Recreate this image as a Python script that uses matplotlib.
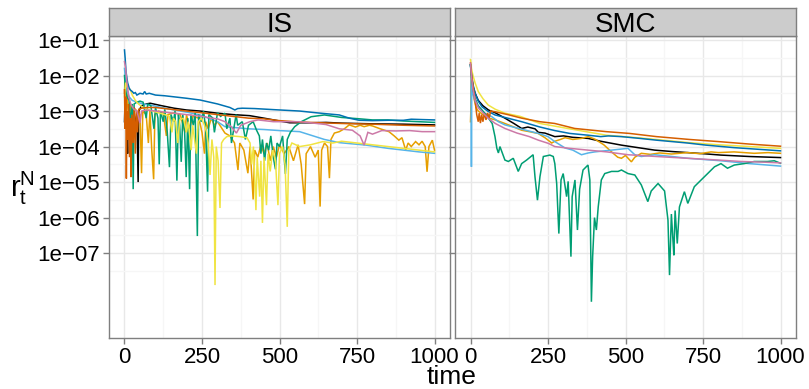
import matplotlib
matplotlib.use('Agg')
import matplotlib.pyplot as plt
from matplotlib.ticker import FixedLocator, NullFormatter

plt.rcParams['font.family'] = ['Liberation Sans', 'DejaVu Sans']
plt.rcParams['mathtext.fontset'] = 'custom'
plt.rcParams['mathtext.rm'] = 'Liberation Sans'
plt.rcParams['mathtext.it'] = 'Liberation Sans'

# series: (time, log10 r_t^N)
is_black = [(0, -3.3), (2, -2.6), (5, -2.9), (8, -3.6), (10, -4.2), (12, -3.3), (16, -3.8), (20, -3.0),
            (25, -3.5), (30, -2.9), (35, -3.4), (40, -3.1), (44, -5.0), (46, -3.0), (55, -2.85), (70, -2.8),
            (83, -2.78), (120, -2.85), (160, -2.92), (200, -2.97), (244, -3.0), (300, -3.06), (350, -3.1),
            (404, -3.13), (450, -3.2), (500, -3.28), (533, -3.33), (600, -3.33), (650, -3.32), (700, -3.34),
            (800, -3.36), (900, -3.37), (1000, -3.39)]
is_orange = [(0, -2.5), (2, -2.0), (4, -2.4), (6, -3.2), (8, -2.5), (12, -2.9), (16, -3.4), (20, -2.8),
             (25, -3.1), (30, -2.9), (40, -3.0), (50, -3.1), (55, -4.75), (59, -3.0), (70, -3.1), (77, -3.9),
             (82, -3.0), (88, -4.1), (94, -4.92), (98, -3.1), (110, -3.0), (125, -3.05), (135, -3.7),
             (140, -3.1), (160, -3.05), (180, -3.1), (195, -3.6), (200, -3.1), (210, -3.5), (220, -3.15),
             (240, -3.2), (250, -3.6), (258, -4.2), (262, -3.3), (270, -3.5), (280, -3.2), (290, -3.4),
             (300, -3.3), (315, -3.5), (324, -3.62), (340, -3.7), (355, -3.9), (366, -4.66), (372, -3.9),
             (385, -4.1), (398, -4.75), (405, -4.0), (415, -5.49), (420, -4.1), (430, -4.3), (440, -3.95),
             (450, -4.2), (460, -3.9), (470, -4.4), (480, -4.0), (490, -4.3), (500, -3.95), (515, -4.2),
             (530, -4.0), (545, -4.4), (560, -3.95), (570, -4.5), (581, -5.62), (586, -4.2), (600, -4.0),
             (615, -4.3), (625, -4.1), (631, -5.69), (636, -4.1), (645, -3.9), (655, -4.0), (661, -4.89),
             (666, -3.8), (677, -3.62), (693, -3.58), (709, -3.5), (725, -3.39), (745, -3.45), (760, -3.4),
             (773, -3.44), (790, -3.4), (800, -3.42), (825, -3.5), (853, -3.58), (870, -3.7), (885, -3.82),
             (895, -3.75), (907, -4.1), (915, -3.9), (925, -4.0), (939, -3.86), (950, -3.95), (960, -3.85),
             (970, -4.0), (976, -4.71), (982, -4.0), (993, -3.82), (1000, -4.1)]
is_skyblue = [(0, -1.8), (3, -2.1), (8, -2.4), (15, -2.6), (25, -2.7), (40, -2.75), (60, -2.8), (83, -2.83),
              (120, -2.9), (160, -2.97), (200, -3.03), (244, -3.11), (300, -3.3), (324, -3.44), (400, -3.5),
              (450, -3.52), (500, -3.55), (565, -3.58), (645, -3.8), (672, -3.85), (693, -3.89), (780, -3.96),
              (850, -4.05), (900, -4.1), (950, -4.15), (1000, -4.19)]
is_green = [(0, -2.0), (3, -2.4), (8, -2.6), (15, -2.7), (20, -3.4), (25, -2.8), (28, -5.2), (31, -2.8),
            (40, -2.75), (50, -2.72), (60, -2.75), (70, -3.2), (75, -2.8), (85, -2.85), (95, -3.5), (100, -2.9),
            (108, -3.2), (112, -4.5), (116, -3.0), (125, -3.3), (130, -2.95), (138, -3.6), (145, -4.58),
            (150, -3.1), (158, -3.3), (163, -3.0), (169, -4.96), (174, -3.1), (178, -3.4), (183, -4.43),
            (188, -3.1), (194, -3.6), (199, -4.86), (204, -3.2), (210, -5.2), (214, -3.1), (222, -3.4),
            (228, -3.05), (235, -6.52), (239, -3.1), (248, -3.3), (255, -3.0), (262, -3.5), (268, -5.27),
            (272, -3.1), (285, -3.2), (290, -3.6), (300, -3.05), (310, -3.15), (324, -3.06), (330, -3.5),
            (340, -3.2), (345, -3.9), (360, -3.1), (365, -3.4), (380, -3.3), (390, -3.8), (400, -3.4),
            (415, -3.3), (426, -3.54), (435, -3.7), (440, -4.2), (445, -3.8), (452, -4.4), (458, -3.9),
            (465, -4.1), (472, -3.7), (480, -4.3), (487, -4.64), (492, -3.9), (500, -4.0), (510, -3.7),
            (519, -4.77), (525, -3.8), (535, -3.6), (549, -3.44), (570, -3.3), (602, -3.16), (645, -3.11),
            (700, -3.18), (760, -3.22), (800, -3.25), (850, -3.25), (900, -3.28), (950, -3.3), (1000, -3.32)]
is_yellow = [(0, -2.6), (4, -2.2), (10, -2.35), (19, -2.4), (25, -2.55), (35, -2.7), (45, -2.8), (60, -2.9),
             (75, -2.95), (90, -3.0), (110, -3.05), (130, -3.1), (145, -3.15), (153, -3.6), (158, -3.2),
             (165, -3.3), (172, -3.9), (178, -3.25), (190, -3.2), (200, -3.6), (206, -3.3), (215, -4.1),
             (220, -3.4), (232, -4.2), (238, -3.3), (248, -3.2), (258, -3.4), (265, -3.6), (270, -3.9),
             (276, -4.8), (282, -3.8), (288, -4.3), (292, -7.9), (296, -4.0), (302, -4.4), (308, -5.73),
             (313, -3.9), (320, -3.8), (330, -3.72), (345, -3.7), (372, -3.72), (395, -3.75), (405, -3.9),
             (410, -4.5), (416, -4.0), (424, -5.79), (428, -4.3), (436, -5.41), (440, -4.4), (445, -6.15),
             (450, -4.3), (458, -5.65), (463, -4.2), (470, -4.7), (478, -4.1), (487, -4.4), (495, -5.65),
             (500, -4.2), (510, -4.0), (518, -4.5), (525, -6.26), (530, -4.1), (540, -3.9), (565, -4.0),
             (600, -3.95), (640, -3.86), (672, -3.9), (700, -3.85), (750, -3.9), (800, -3.95), (850, -4.0),
             (900, -4.05), (950, -4.1), (1000, -4.15)]
is_blue = [(0, -1.28), (2, -1.5), (5, -1.9), (10, -2.2), (15, -2.35), (19, -2.41), (25, -2.45), (30, -2.5),
           (35, -2.48), (40, -2.55), (50, -2.5), (60, -2.52), (65, -2.45), (70, -2.52), (80, -2.5), (100, -2.55),
           (130, -2.57), (160, -2.6), (200, -2.64), (244, -2.69), (300, -2.8), (340, -2.9), (356, -2.97),
           (365, -2.93), (380, -2.92), (420, -2.93), (480, -2.96), (565, -3.0), (620, -3.05), (693, -3.11),
           (725, -3.2), (757, -3.26), (800, -3.27), (850, -3.26), (900, -3.26), (925, -3.23), (960, -3.24),
           (1000, -3.25)]
is_verm = [(0, -2.4), (2, -3.5), (4, -2.6), (6, -4.9), (8, -3.0), (11, -3.8), (13, -2.8), (16, -4.3),
           (19, -3.2), (21, -4.86), (24, -3.1), (28, -3.9), (31, -2.9), (35, -4.2), (38, -3.0), (42, -3.6),
           (46, -2.95), (55, -2.92), (70, -2.9), (100, -2.9), (150, -2.95), (200, -3.0), (250, -3.05),
           (300, -3.1), (350, -3.15), (400, -3.2), (450, -3.22), (500, -3.27), (550, -3.3), (600, -3.32),
           (700, -3.35), (800, -3.37), (900, -3.4), (1000, -3.42)]
is_pink = [(0, -1.61), (3, -1.75), (8, -2.2), (14, -2.6), (20, -2.8), (30, -2.95), (40, -3.0), (50, -3.34),
           (55, -3.0), (70, -2.97), (100, -3.0), (150, -3.05), (200, -3.1), (250, -3.15), (280, -3.2),
           (300, -3.22), (324, -3.3), (345, -3.45), (361, -3.62), (375, -3.4), (404, -3.3), (431, -3.25),
           (480, -3.3), (530, -3.3), (565, -3.3), (600, -3.33), (650, -3.38), (693, -3.5), (735, -3.54),
           (760, -3.7), (773, -3.96), (785, -3.6), (800, -3.65), (830, -3.55), (875, -3.56), (920, -3.55),
           (960, -3.58), (1000, -3.58)]

smc_black = [(0, -1.7), (3, -2.0), (8, -2.3), (15, -2.5), (25, -2.7), (40, -2.85), (58, -2.97), (80, -3.05),
             (111, -3.2), (140, -3.35), (165, -3.49), (185, -3.45), (208, -3.5), (219, -3.6), (240, -3.62),
             (272, -3.72), (300, -3.7), (330, -3.74), (379, -3.77), (420, -3.85), (450, -3.9), (487, -3.96),
             (540, -4.03), (594, -4.1), (650, -4.14), (701, -4.17), (750, -4.2), (808, -4.24), (900, -4.28),
             (1000, -4.31)]
smc_orange = [(0, -3.3), (1, -3.0), (2, -1.9), (5, -2.2), (10, -2.6), (18, -2.9), (25, -3.0), (40, -3.1),
              (60, -3.2), (80, -3.25), (111, -3.35), (140, -3.45), (165, -3.54), (190, -3.58), (218, -3.63),
              (240, -3.75), (262, -3.9), (272, -3.85), (290, -3.8), (305, -3.75), (330, -3.8), (358, -3.77),
              (380, -3.72), (401, -3.79), (430, -3.95), (455, -4.15), (475, -4.3), (487, -4.33), (500, -4.25),
              (519, -4.43), (530, -4.3), (551, -4.19), (580, -4.22), (610, -4.18), (648, -4.21), (700, -4.17),
              (740, -4.2), (776, -4.15), (800, -4.17), (850, -4.15), (915, -4.19), (960, -4.17), (1000, -4.19)]
smc_skyblue = [(0, -1.7), (2, -2.0), (3, -4.57), (4, -2.2), (8, -2.5), (15, -2.75), (30, -2.95), (50, -3.08),
               (69, -3.16), (90, -3.3), (111, -3.39), (160, -3.5), (219, -3.63), (250, -3.72), (272, -3.86),
               (305, -4.04), (330, -4.1), (358, -4.23), (380, -4.18), (401, -4.15), (455, -4.1), (508, -4.05),
               (530, -4.23), (551, -4.28), (594, -4.23), (650, -4.28), (701, -4.33), (808, -4.4), (900, -4.48),
               (1000, -4.55)]
smc_green = [(0, -1.7), (3, -2.0), (8, -2.4), (15, -2.65), (25, -2.85), (40, -3.0), (58, -3.2), (70, -3.35),
             (79, -3.72), (85, -4.05), (90, -4.18), (95, -4.0), (111, -4.38), (122, -4.42), (138, -4.33),
             (154, -4.7), (165, -4.48), (181, -4.38), (202, -4.23), (208, -4.85), (216, -5.51), (224, -4.85),
             (235, -4.28), (256, -4.24), (267, -4.28), (272, -4.48), (278, -5.04), (285, -6.45), (292, -4.94),
             (299, -4.76), (310, -5.41), (315, -4.98), (324, -7.1), (328, -5.41), (337, -4.94), (345, -6.35),
             (352, -5.2), (363, -4.66), (379, -4.52), (385, -4.94), (390, -8.37), (394, -7.1), (400, -6.0),
             (406, -6.35), (412, -5.7), (422, -4.94), (433, -4.76), (455, -4.7), (476, -4.7), (487, -4.66),
             (508, -4.76), (530, -4.8), (551, -5.08), (572, -5.55), (583, -5.25), (605, -5.04), (626, -5.25),
             (637, -6.07), (642, -7.62), (648, -5.9), (653, -6.63), (656, -7.06), (660, -5.8), (667, -6.73),
             (674, -5.7), (690, -5.27), (701, -5.6), (722, -5.13), (744, -4.94), (765, -4.76), (787, -4.57),
             (808, -4.48), (829, -4.61), (851, -4.52), (883, -4.48), (915, -4.42), (958, -4.42), (980, -4.4),
             (1000, -4.47)]
smc_yellow = [(0, -1.55), (3, -1.8), (8, -2.0), (15, -2.21), (25, -2.45), (40, -2.65), (57, -2.83), (80, -2.95),
              (111, -3.06), (160, -3.15), (224, -3.35), (320, -3.5), (438, -3.68), (550, -3.76), (706, -3.89),
              (800, -3.95), (900, -4.0), (1000, -4.05)]
smc_blue = [(0, -1.7), (3, -1.95), (8, -2.25), (15, -2.5), (25, -2.72), (37, -2.88), (55, -3.0), (79, -3.11),
            (120, -3.2), (165, -3.3), (224, -3.45), (272, -3.55), (320, -3.63), (379, -3.68), (420, -3.72),
            (445, -3.7), (487, -3.72), (546, -3.77), (600, -3.82), (700, -3.9), (760, -3.96), (850, -4.03),
            (1000, -4.12)]
smc_verm = [(0, -1.65), (3, -1.95), (8, -2.3), (15, -2.7), (20, -3.1), (25, -3.3), (28, -3.06), (32, -3.34),
            (36, -3.1), (40, -3.3), (45, -3.06), (50, -3.25), (55, -3.05), (60, -3.2), (65, -3.0), (80, -3.02),
            (120, -3.1), (165, -3.2), (224, -3.3), (272, -3.35), (336, -3.49), (438, -3.58), (513, -3.63),
            (600, -3.72), (706, -3.8), (800, -3.86), (900, -3.93), (1000, -3.99)]
smc_pink = [(0, -1.65), (3, -2.0), (8, -2.4), (15, -2.7), (25, -2.9), (40, -3.05), (57, -3.2), (80, -3.35),
            (111, -3.49), (150, -3.62), (190, -3.72), (219, -3.82), (251, -3.91), (272, -4.0), (320, -4.05),
            (379, -4.1), (440, -4.15), (508, -4.23), (600, -4.28), (701, -4.33), (800, -4.38), (873, -4.42),
            (950, -4.44), (1000, -4.46)]

palette = ['#000000', '#E69F00', '#56B4E9', '#009E73', '#F0E442', '#0072B2', '#D55E00', '#CC79A7']
panels = [('IS', [is_black, is_orange, is_skyblue, is_green, is_yellow, is_blue, is_verm, is_pink]),
          ('SMC', [smc_black, smc_orange, smc_skyblue, smc_green, smc_yellow, smc_blue, smc_verm, smc_pink])]

W, H = 809, 389
fig = plt.figure(figsize=(W / 100, H / 100), dpi=100)
lefts = [109, 455]
pw = 341
top, bottom, strip_top = 36, 338, 8
grey50 = '#7F7F7F'

for i, (name, series) in enumerate(panels):
    ax = fig.add_axes([lefts[i] / W, (H - bottom) / H, pw / W, (bottom - top) / H])
    for s, c in zip(series, palette):
        t = [p[0] for p in s]
        v = [10 ** p[1] for p in s]
        ax.plot(t, v, color=c, lw=1.1, solid_joinstyle='miter')
    ax.set_yscale('log')
    ax.set_xlim(-50, 1050)
    ax.set_ylim(10 ** -9.39, 10 ** -0.887)
    ax.set_xticks([0, 250, 500, 750, 1000])
    ax.xaxis.set_minor_locator(FixedLocator([125, 375, 625, 875]))
    yt = [10.0 ** -k for k in range(1, 8)]
    ax.yaxis.set_major_locator(FixedLocator(yt))
    ax.yaxis.set_minor_locator(FixedLocator([10 ** (-k - 0.5) for k in range(1, 8)]))
    ax.yaxis.set_minor_formatter(NullFormatter())
    if i == 0:
        ax.set_yticklabels(['1e\u22120%d' % k for k in range(1, 8)])
    else:
        ax.set_yticklabels([])
        ax.tick_params(axis='y', which='major', length=0)
    ax.grid(which='major', color='#E8E8E8', lw=1.0)
    ax.grid(which='minor', color='#F6F6F6', lw=1.0)
    ax.set_axisbelow(True)
    ax.tick_params(which='major', length=4.5, width=1.0, color=grey50, labelsize=16, pad=2, labelcolor='black')
    ax.tick_params(which='minor', length=0)
    for sp in ax.spines.values():
        sp.set_color(grey50)
        sp.set_linewidth(1.0)

    st = fig.add_axes([lefts[i] / W, (H - top) / H, pw / W, (top - strip_top) / H])
    st.set_facecolor('#CCCCCC')
    st.set_xticks([])
    st.set_yticks([])
    for sp in st.spines.values():
        sp.set_color(grey50)
        sp.set_linewidth(1.0)
    st.text(0.5, 0.15, name, ha='center', va='baseline', fontsize=20, transform=st.transAxes)

fig.text(452 / W, 0.5 / H, 'time', ha='center', va='bottom', fontsize=19)
fig.text(22 / W, 1 - 188 / H, r'$\mathrm{r_t^N}$', ha='center', va='center', fontsize=21)

fig.savefig('out.png', dpi=100)
